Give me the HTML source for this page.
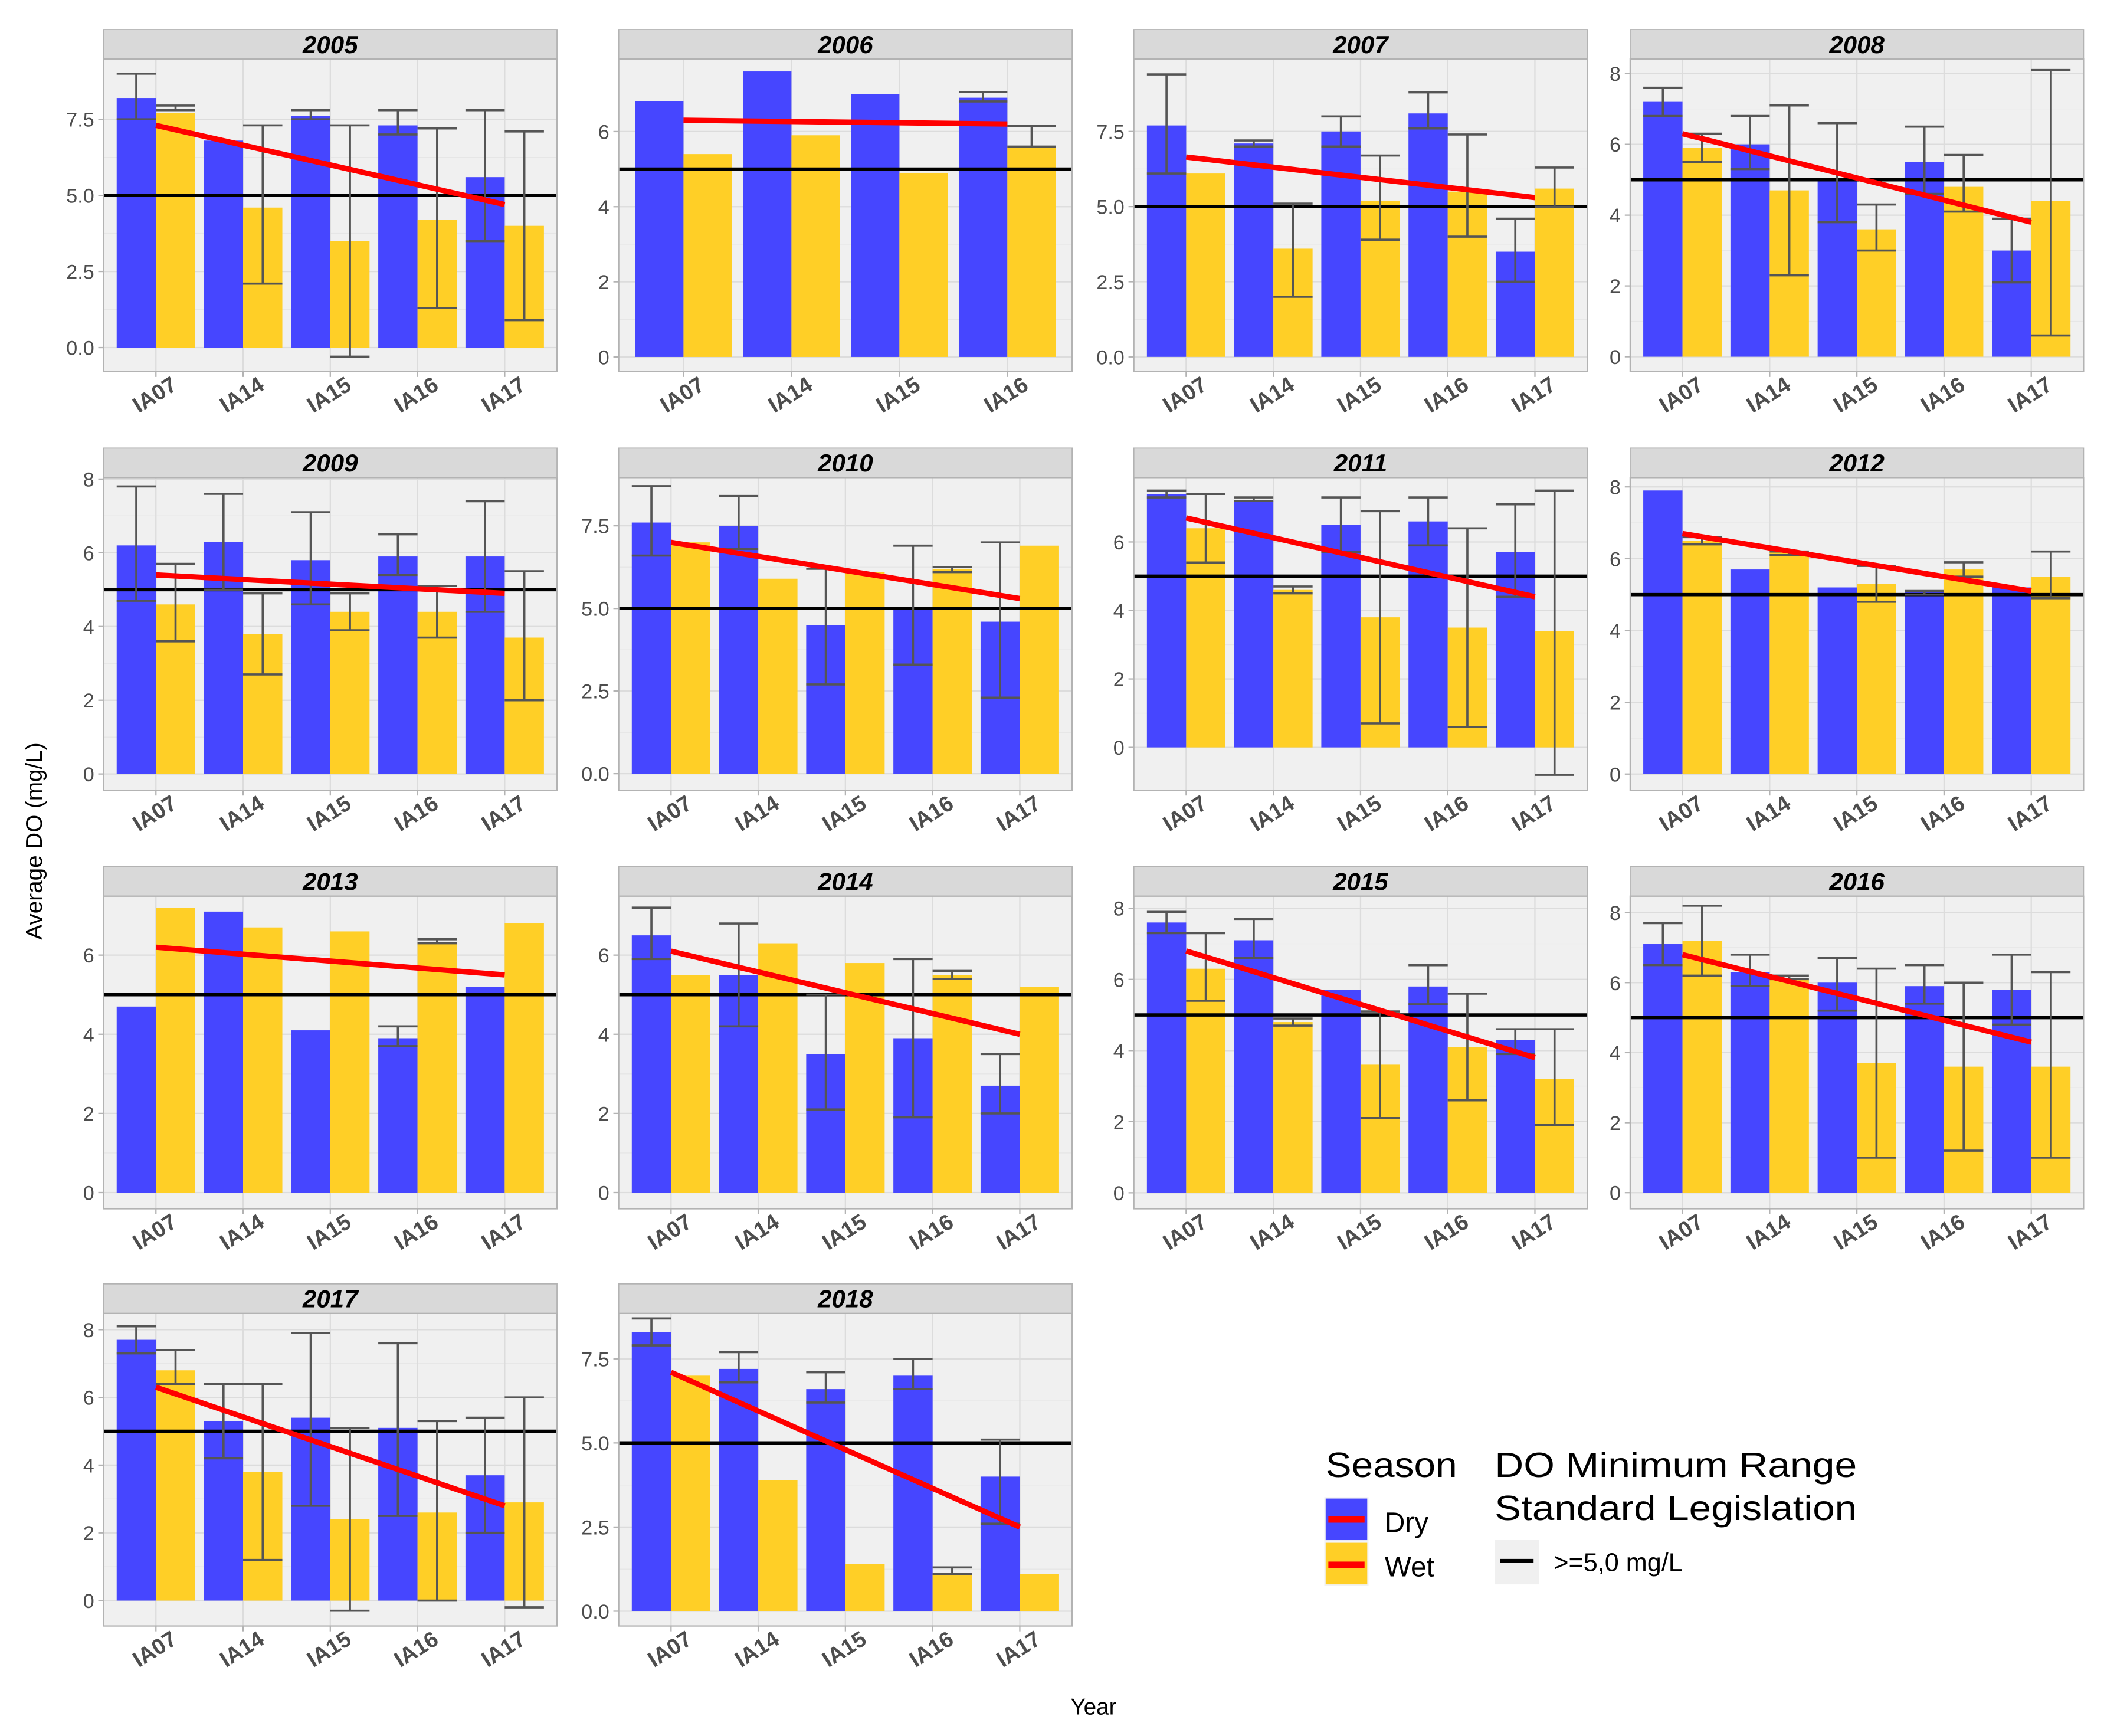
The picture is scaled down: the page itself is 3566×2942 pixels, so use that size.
<!DOCTYPE html>
<html><head><meta charset="utf-8"><style>html,body{margin:0;padding:0;background:#fff}svg{display:block}text{font-family:"Liberation Sans",Arial,sans-serif}</style></head>
<body>
<svg id="chart" width="3566" height="2942" viewBox="0 0 1568 1294" xmlns="http://www.w3.org/2000/svg">
<g id="panels"></g>
<text x="0" y="0" transform="translate(31,627) rotate(-90)" text-anchor="middle" font-size="17" fill="#000">Average DO (mg/L)</text>
<text x="815" y="1278" text-anchor="middle" font-size="17" fill="#000">Year</text>
<g>
<text x="988" y="1101" font-size="26" textLength="98" lengthAdjust="spacingAndGlyphs">Season</text>
<g><rect x="987" y="1116" width="33" height="33" fill="#f2f2f2"/><rect x="988" y="1117" width="31" height="31" fill="#4646FF"/><rect x="990" y="1130" width="27" height="5" fill="#ff0000"/><text x="1032" y="1142" font-size="21">Dry</text></g>
<g><rect x="987" y="1149" width="33" height="33" fill="#f2f2f2"/><rect x="988" y="1150" width="31" height="31" fill="#FFCF26"/><rect x="990" y="1164" width="27" height="5" fill="#ff0000"/><text x="1032" y="1175" font-size="21">Wet</text></g>
</g>
<g>
<text x="1114" y="1101" font-size="26" textLength="270" lengthAdjust="spacingAndGlyphs">DO Minimum Range</text>
<text x="1114" y="1133" font-size="26" textLength="270" lengthAdjust="spacingAndGlyphs">Standard Legislation</text>
<g><rect x="1114" y="1148" width="33" height="33" fill="#f0f0f0"/><rect x="1118" y="1162" width="25" height="3" fill="#000"/><text x="1158" y="1171" font-size="19">&gt;=5,0 mg/L</text></g>
</g>
</svg>
<script>
const years = [2005,2006,2007,2008,2009,2010,2011,2012,2013,2014,2015,2016,2017,2018];
const categories5 = ["IA07","IA14","IA15","IA16","IA17"];
const categories4 = ["IA07","IA14","IA15","IA16"];
const dryVals = [[8.2,6.8,7.6,7.3,5.6],[6.8,7.6,7.0,6.9],[7.7,7.1,7.5,8.1,3.5],[7.2,6.0,5.0,5.5,3.0],[6.2,6.3,5.8,5.9,5.9],[7.6,7.5,4.5,5.0,4.6],[7.4,7.2,6.5,6.6,5.7],[7.9,5.7,5.2,5.1,5.2],[4.7,7.1,4.1,3.9,5.2],[6.5,5.5,3.5,3.9,2.7],[7.6,7.1,5.7,5.8,4.3],[7.1,6.3,6.0,5.9,5.8],[7.7,5.3,5.4,5.1,3.7],[8.3,7.2,6.6,7.0,4.0]];
const wetVals = [[7.7,4.6,3.5,4.2,4.0],[5.4,5.9,4.9,5.6],[6.1,3.6,5.2,5.5,5.6],[5.9,4.7,3.6,4.8,4.4],[4.6,3.8,4.4,4.4,3.7],[7.0,5.9,6.1,6.2,6.9],[6.4,4.6,3.8,3.5,3.4],[6.5,6.2,5.3,5.7,5.5],[7.2,6.7,6.6,6.3,6.8],[5.5,6.3,5.8,5.5,5.2],[6.3,4.8,3.6,4.1,3.2],[7.2,6.1,3.7,3.6,3.6],[6.8,3.8,2.4,2.6,2.9],[7.0,3.9,1.4,1.1,1.1]];
const dryErrLo = [[7.5,null,7.5,7.0,3.5],[null,null,null,6.8],[6.1,7.0,7.0,7.6,2.5],[6.8,5.3,3.8,4.6,2.1],[4.7,5.0,4.6,5.4,4.4],[6.6,6.8,2.7,3.3,2.3],[7.3,7.2,5.7,5.9,4.4],[null,null,null,5.0,null],[null,null,null,3.7,null],[5.9,4.2,2.1,1.9,2.0],[7.3,6.6,null,5.3,3.9],[6.5,5.9,5.2,5.4,4.8],[7.3,4.2,2.8,2.5,2.0],[7.9,6.8,6.2,6.6,2.6]];
const dryErrHi = [[9.0,null,7.8,7.8,7.8],[null,null,null,7.05],[9.4,7.2,8.0,8.8,4.6],[7.6,6.8,6.6,6.5,3.9],[7.8,7.6,7.1,6.5,7.4],[8.7,8.4,6.2,6.9,7.0],[7.5,7.3,7.3,7.3,7.1],[null,null,null,5.1,null],[null,null,null,4.2,null],[7.2,6.8,5.0,5.9,3.5],[7.9,7.7,null,6.4,4.6],[7.7,6.8,6.7,6.5,6.8],[8.1,6.4,7.9,7.6,5.4],[8.7,7.7,7.1,7.5,5.1]];
const wetErrLo = [[7.8,2.1,-0.3,1.3,0.9],[null,null,null,5.6],[null,2.0,3.9,4.0,5.0],[5.5,2.3,3.0,4.1,0.6],[3.6,2.7,3.9,3.7,2.0],[null,null,null,6.1,null],[5.4,4.5,0.7,0.6,-0.8],[6.4,6.1,4.8,5.5,4.9],[null,null,null,6.3,null],[null,null,null,5.4,null],[5.4,4.7,2.1,2.6,1.9],[6.2,6.1,1.0,1.2,1.0],[6.4,1.2,-0.3,0.0,-0.2],[null,null,null,1.1,null]];
const wetErrHi = [[7.95,7.3,7.3,7.2,7.1],[null,null,null,6.15],[null,5.1,6.7,7.4,6.3],[6.3,7.1,4.3,5.7,8.1],[5.7,4.9,4.9,5.1,5.5],[null,null,null,6.25,null],[7.4,4.7,6.9,6.4,7.5],[6.6,6.2,5.8,5.9,6.2],[null,null,null,6.4,null],[null,null,null,5.6,null],[7.3,4.9,5.1,5.6,4.6],[8.2,6.2,6.4,6.0,6.3],[7.4,6.4,5.1,5.3,6.0],[null,null,null,1.3,null]];
const trendStart = [7.3,6.3,6.65,6.3,5.4,7.0,6.7,6.7,6.2,6.1,6.8,6.8,6.3,7.1];
const trendEnd = [4.7,6.2,5.3,3.8,4.9,5.3,4.4,5.1,5.5,4.0,3.8,4.3,2.8,2.5];
const yMin = [-0.79,-0.39,-0.49,-0.42,-0.44,-0.50,-1.25,-0.45,-0.41,-0.41,-0.45,-0.46,-0.75,-0.44];
const yMax = [9.48,7.93,9.91,8.41,8.04,8.96,7.88,8.26,7.49,7.49,8.34,8.47,8.48,8.85];
const ticksA = [0,2.5,5,7.5];
const ticksB = [0,2,4,6];
const ticksC = [0,2,4,6,8];
const tickSets = [ticksA,ticksB,ticksA,ticksC,ticksC,ticksA,ticksB,ticksC,ticksB,ticksB,ticksC,ticksC,ticksC,ticksA];
const threshold = 5;

const NS="http://www.w3.org/2000/svg";
const colX=[77,461,845,1215], rowTop=[44,356,668,979], PW=338, PH=233, STRIP=22;
const root=document.getElementById('panels');
function mk(tag,attrs,parent){const e=document.createElementNS(NS,tag);for(const k in attrs)e.setAttribute(k,attrs[k]);parent.appendChild(e);return e;}

years.forEach((yr,p)=>{
  const L=colX[p%4], T=rowTop[Math.floor(p/4)], B=T+PH;
  const cats = dryVals[p].length===4?categories4:categories5;
  const n=cats.length, step=PW/(n+0.2);
  const xc=i=>L+(i+0.6)*step;
  const ys=v=>B-(v-yMin[p])/(yMax[p]-yMin[p])*PH;
  const g=mk('g',{},root);
  
  
  const st=mk('rect',{x:L,y:T-STRIP,width:PW,height:STRIP,fill:'#d9d9d9',stroke:'#b3b3b3','stroke-width':0.8},g);
  
  
  const stt=mk('text',{x:L+PW/2,y:T-4.5,'text-anchor':'middle','font-size':18.5,'font-weight':'bold','font-style':'italic',fill:'#000'},g);
  stt.textContent=yr;
  
  
  const bg=mk('rect',{x:L,y:T,width:PW,height:PH,fill:'#f0f0f0'},g);
  
  
  const tk=tickSets[p];
  for(let i=0;i<tk.length;i++){
    const yy=ys(tk[i]);
    mk('line',{x1:L,x2:L+PW,y1:yy,y2:yy,stroke:'#dcdcdc','stroke-width':1},g);
    if(i<tk.length-1){const m=ys((tk[i]+tk[i+1])/2);mk('line',{x1:L,x2:L+PW,y1:m,y2:m,stroke:'#e6e6e6','stroke-width':0.6},g);}
    mk('line',{x1:L-4,x2:L,y1:yy,y2:yy,stroke:'#b3b3b3','stroke-width':1},g);
    const t=mk('text',{x:L-7,y:yy+5.5,'text-anchor':'end','font-size':15,fill:'#4d4d4d'},g);
    t.textContent = tk===ticksA? tk[i].toFixed(1): String(tk[i]);
    
    
  }
  cats.forEach((c,i)=>{
    const x=xc(i);
    mk('line',{x1:x,x2:x,y1:T,y2:B,stroke:'#dcdcdc','stroke-width':1},g);
    mk('line',{x1:x,x2:x,y1:B,y2:B+4,stroke:'#b3b3b3','stroke-width':1},g);
    const t=mk('text',{x:0,y:0,transform:`translate(${x+2},${B+22}) rotate(-32)`,'text-anchor':'middle','font-size':16.5,'font-weight':'bold',fill:'#4d4d4d'},g);
    t.textContent=c;
    
    
  });
  const bw=0.45*step;
  cats.forEach((c,i)=>{
    const x=xc(i), y0=ys(0);
    const yd=ys(dryVals[p][i]), yw=ys(wetVals[p][i]);
    const bd=mk('rect',{x:x-bw,y:yd,width:bw,height:y0-yd,fill:'#4646FF'},g);
    
    
    const bwt=mk('rect',{x:x,y:yw,width:bw,height:y0-yw,fill:'#FFCF26'},g);
    
    
  });
  const hl=mk('line',{x1:L,x2:L+PW,y1:ys(threshold),y2:ys(threshold),stroke:'#000','stroke-width':2.5},g);
  
  
  cats.forEach((c,i)=>{
    const x=xc(i);
    [[dryErrLo,dryErrHi,x-bw/2,'dry'],[wetErrLo,wetErrHi,x+bw/2,'wet']].forEach(([lo,hi,cx,s])=>{
      if(lo[p][i]===null)return;
      const y1=ys(lo[p][i]), y2=ys(hi[p][i]);
      const e=mk('path',{d:`M${cx-bw/2},${y1}H${cx+bw/2}M${cx},${y1}V${y2}M${cx-bw/2},${y2}H${cx+bw/2}`,stroke:'#555','stroke-width':1.6,fill:'none'},g);
      
      
    });
  });
  const tr=mk('line',{x1:xc(0),x2:xc(n-1),y1:ys(trendStart[p]),y2:ys(trendEnd[p]),stroke:'#ff0000','stroke-width':4},g);
  
  
  mk('rect',{x:L,y:T,width:PW,height:PH,fill:'none',stroke:'#b3b3b3','stroke-width':1},g);
});
</script>
</body></html>
